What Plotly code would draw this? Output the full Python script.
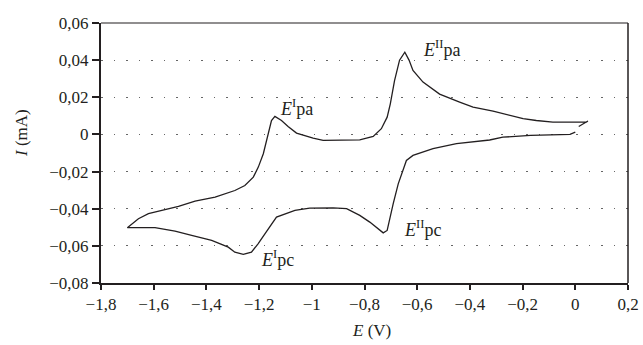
import plotly.graph_objects as go

# Cyclic voltammogram: potential E (V) and current I (mA), in scan order
E_values = [
    0.000, -0.020, -0.170, -0.275, -0.325, -0.440, -0.451, -0.540, -0.616, -0.641,
    -0.653, -0.672, -0.691, -0.704, -0.714, -0.729, -0.748, -0.780, -0.818, -0.868,
    -0.919, -1.008, -1.046, -1.064, -1.134, -1.153, -1.178, -1.204, -1.229, -1.260,
    -1.292, -1.317, -1.380, -1.456, -1.519, -1.595, -1.700,
    -1.658, -1.620, -1.569, -1.506, -1.443, -1.367, -1.292, -1.254, -1.222, -1.203,
    -1.184, -1.168, -1.163, -1.153, -1.140, -1.115, -1.090, -1.058, -0.995, -0.957,
    -0.818, -0.767, -0.736, -0.714, -0.702, -0.686, -0.667, -0.647, -0.631, -0.616,
    -0.578, -0.515, -0.439, -0.388, -0.312, -0.236, -0.198, -0.148, -0.085, 0.042,
    0.048, 0.013,
]
I_values = [
    0.0012, 0.0000, -0.0005, -0.0015, -0.0030, -0.0045, -0.0050, -0.0077, -0.0113, -0.0140,
    -0.0194, -0.0266, -0.0373, -0.0463, -0.0517, -0.0530, -0.0508, -0.0472, -0.0436, -0.0400,
    -0.0395, -0.0397, -0.0405, -0.0409, -0.0445, -0.0481, -0.0535, -0.0589, -0.0634, -0.0646,
    -0.0634, -0.0607, -0.0571, -0.0544, -0.0521, -0.0502, -0.0502,
    -0.0454, -0.0427, -0.0409, -0.0388, -0.0359, -0.0338, -0.0302, -0.0275, -0.0230, -0.0176,
    -0.0104, -0.0015, 0.0022, 0.0075, 0.0097, 0.0075, 0.0043, 0.0007, -0.0020, -0.0032,
    -0.0029, -0.0011, 0.0031, 0.0093, 0.0165, 0.0290, 0.0400, 0.0443, 0.0400, 0.0345,
    0.0282, 0.0217, 0.0174, 0.0147, 0.0125, 0.0097, 0.0085, 0.0075, 0.0066, 0.0066,
    0.0072, 0.0043,
]

x_tickvals = [-1.8, -1.6, -1.4, -1.2, -1.0, -0.8, -0.6, -0.4, -0.2, 0.0, 0.2]
x_ticktext = ["−1,8", "−1,6", "−1,4", "−1,2", "−1", "−0,8", "−0,6", "−0,4", "−0,2", "0", "0,2"]
y_tickvals = [0.06, 0.04, 0.02, 0.0, -0.02, -0.04, -0.06, -0.08]
y_ticktext = ["0,06", "0,04", "0,02", "0", "−0,02", "−0,04", "−0,06", "−0,08"]

peak_labels = ["<i>E</i><sup>I</sup>pa", "<i>E</i><sup>II</sup>pa", "<i>E</i><sup>I</sup>pc", "<i>E</i><sup>II</sup>pc"]
peak_x = [-1.129, -0.584, -1.200, -0.659]
peak_y = [0.0145, 0.0465, -0.0668, -0.0508]

INK = "#231f20"
FONT = "'Liberation Serif', 'Times New Roman', 'DejaVu Serif', serif"

W, H = 643, 345
L, T, R, B = 101, 23, 15, 62

fig = go.Figure()
fig.add_trace(go.Scatter(x=E_values, y=I_values, mode="lines",
                         line=dict(color=INK, width=1.3), showlegend=False,
                         hoverinfo="skip"))

for t, xv, yv in zip(peak_labels, peak_x, peak_y):
    fig.add_annotation(x=xv, y=yv, text=t, showarrow=False, xanchor="left",
                       yanchor="middle", font=dict(family=FONT, size=18, color=INK))

# axis titles
fig.add_annotation(xref="paper", yref="paper", x=(371 - 101) / 527.0, y=-(330 - 283) / 260,
                   text="<i>E</i> (V)", showarrow=False, xanchor="center", yanchor="middle",
                   font=dict(family=FONT, size=17, color=INK))
fig.add_annotation(xref="paper", yref="paper", x=-(101 - 21) / 527.0, y=(283 - 133) / 260,
                   text="<i>I</i> (mA)", showarrow=False, textangle=-90, xanchor="center",
                   yanchor="middle", font=dict(family=FONT, size=17, color=INK))

# top and right thin border
fig.add_shape(type="line", xref="paper", yref="paper", x0=0, x1=1, y0=1, y1=1,
              line=dict(color=INK, width=1.2))
fig.add_shape(type="line", xref="paper", yref="paper", x0=1, x1=1, y0=0, y1=1,
              line=dict(color=INK, width=1.5))

fig.update_layout(
    width=W, height=H, autosize=False,
    margin=dict(l=L, r=R, t=T, b=B, pad=0, autoexpand=False),
    paper_bgcolor="white", plot_bgcolor="white",
    font=dict(family=FONT, size=16, color=INK),
    xaxis=dict(range=[-1.8, 0.2], tickvals=x_tickvals, ticktext=x_ticktext,
               showline=True, linecolor=INK, linewidth=2, ticks="outside",
               ticklen=5, tickwidth=1.5, tickcolor=INK, showgrid=False,
               zeroline=False, automargin=False,
               tickfont=dict(family=FONT, size=17, color=INK)),
    yaxis=dict(range=[-0.08, 0.06], tickvals=y_tickvals, ticktext=y_ticktext,
               showline=True, linecolor=INK, linewidth=2, ticks="outside",
               ticklen=7, tickwidth=1.5, tickcolor=INK, showgrid=True,
               gridcolor="#666666", gridwidth=1, griddash="1.5px,11px",
               zeroline=False, automargin=False,
               tickfont=dict(family=FONT, size=17, color=INK)),
)

# remove the default page margin so the 643x345 figure fills the window exactly
fig.write_html("out.html",
               config={"displayModeBar": False, "responsive": False},
               post_script="document.documentElement.style.margin='0';"
                           "document.body.style.margin='0';"
                           "document.body.style.overflow='hidden';")
